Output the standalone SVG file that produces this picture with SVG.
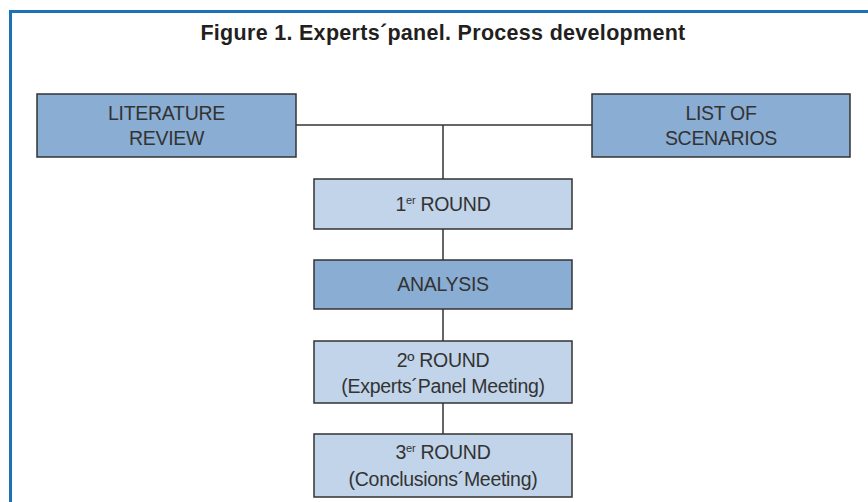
<svg xmlns="http://www.w3.org/2000/svg" width="868" height="502" viewBox="0 0 868 502">
<style>
.frame{fill:none;stroke:#1b72b5;stroke-width:3}
.title{font-family:"Liberation Sans",Arial,sans-serif;font-weight:bold;font-size:21.5px;fill:#231f20;letter-spacing:0.3px}
.dark{fill:#8aadd4;stroke:#333;stroke-width:1.5}
.light{fill:#c1d4e9;stroke:#333;stroke-width:1.5}
.lbl{font-family:"Liberation Sans",Arial,sans-serif;font-size:19.5px;fill:#333;letter-spacing:-0.3px;text-anchor:middle}
.sup{font-size:11px}
.conn line{stroke:#333;stroke-width:1.5}
</style>
<rect width="868" height="502" fill="#fff"/>
<path class="frame" d="M10.5 502 V11.5 H868"/>
<text class="title" x="443" y="40" text-anchor="middle">Figure 1. Experts´panel. Process development</text>
<g class="conn" id="connectors">
<line x1="296" y1="125" x2="592" y2="125"/>
<line x1="443" y1="125" x2="443" y2="179"/>
<line x1="443" y1="229" x2="443" y2="260"/>
<line x1="443" y1="309" x2="443" y2="341"/>
<line x1="443" y1="403" x2="443" y2="434"/>
</g>
<g id="literature">
<rect class="dark" x="37" y="94" width="259" height="63"/>
<text class="lbl" x="166.5" y="120">LITERATURE</text>
<text class="lbl" x="166.5" y="145">REVIEW</text>
</g>
<g id="scenarios">
<rect class="dark" x="592" y="94" width="258" height="63"/>
<text class="lbl" x="721" y="120">LIST OF</text>
<text class="lbl" x="721" y="145">SCENARIOS</text>
</g>
<g id="round1">
<rect class="light" x="314" y="179" width="258" height="50"/>
<text class="lbl" x="443" y="211">1<tspan class="sup" dy="-7">er</tspan><tspan dy="7"> ROUND</tspan></text>
</g>
<g id="analysis">
<rect class="dark" x="314" y="260" width="258" height="49"/>
<text class="lbl" x="443" y="291">ANALYSIS</text>
</g>
<g id="round2">
<rect class="light" x="314" y="341" width="258" height="62"/>
<text class="lbl" x="443" y="367">2º ROUND</text>
<text class="lbl" x="443" y="393">(Experts´Panel Meeting)</text>
</g>
<g id="round3">
<rect class="light" x="314" y="434" width="258" height="63"/>
<text class="lbl" x="443" y="459">3<tspan class="sup" dy="-7">er</tspan><tspan dy="7"> ROUND</tspan></text>
<text class="lbl" x="443" y="486">(Conclusions´Meeting)</text>
</g>
</svg>
